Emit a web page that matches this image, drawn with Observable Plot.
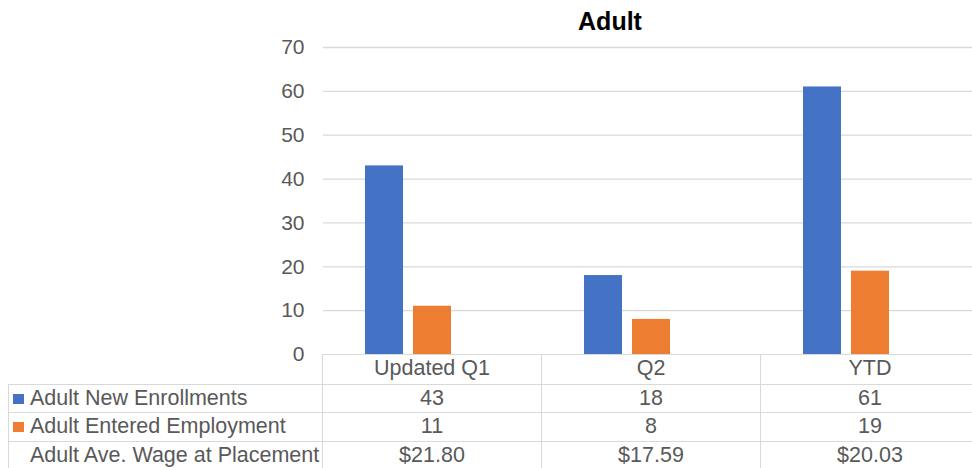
<!DOCTYPE html>
<html>
<head>
<meta charset="utf-8">
<script src="https://cdn.jsdelivr.net/npm/d3@7"></script>
<script src="https://cdn.jsdelivr.net/npm/@observablehq/plot@0.6"></script>
<style>
  html, body { margin: 0; padding: 0; background: #fff; }
  #wrap { position: relative; width: 972px; height: 468px; overflow: hidden; font-family: "Liberation Sans", Arial, sans-serif; }
  #title { position: absolute; top: 7px; left: 0; font-weight: bold; font-size: 25px; color: #000; white-space: nowrap; }
  table.dt { position: absolute; border-collapse: collapse; table-layout: fixed; color: #595959; font-size: 21.5px; }
  table.dt td { padding: 0; border: 1px solid #d9d9d9; text-align: center; white-space: nowrap; overflow: hidden; line-height: 1; }
  table.dt td.lab { text-align: left; padding-left: 4px; }
  table.dt tr.hdr td.blank { border-top: none; border-left: none; border-bottom: 1px solid #d9d9d9; }
  .sw { display: inline-block; width: 11px; height: 10px; margin-right: 6px; vertical-align: 1px; }
</style>
</head>
<body>
<div id="wrap"></div>
<script>
const categories = ["Updated Q1", "Q2", "YTD"];
const seriesNames = ["Adult New Enrollments", "Adult Entered Employment", "Adult Ave. Wage at Placement"];
const enrollments = [43, 18, 61];
const employment = [11, 8, 19];
const wageLabels = ["$21.80", "$17.59", "$20.03"];
const seriesColors = ["#4472C4", "#ED7D31"];
const yTicks = [0, 10, 20, 30, 40, 50, 60, 70];
const titleText = "Adult";

const data = categories.flatMap((c, i) => [
  {cat: c, series: seriesNames[0], value: enrollments[i]},
  {cat: c, series: seriesNames[1], value: employment[i]}
]);

const plot = Plot.plot({
  width: 972,
  height: 468,
  marginLeft: 322,
  marginRight: -8,
  marginTop: 47,
  marginBottom: 114,
  style: {fontFamily: "'Liberation Sans', Arial, sans-serif", fontSize: "21px", color: "#595959", background: "transparent", overflow: "visible"},
  fx: {domain: categories, padding: 0, axis: null, label: null},
  x: {domain: seriesNames, paddingInner: 0.2, paddingOuter: 0.856, axis: null, label: null},
  y: {domain: [0, 70], ticks: yTicks, tickSize: 0, tickPadding: 19, label: null},
  color: {domain: seriesNames.slice(0, 2), range: seriesColors},
  marks: [
    Plot.ruleY(yTicks.filter(d => d > 0), {stroke: "#d9d9d9", strokeWidth: 1.3}),
    Plot.barY(data, {fx: "cat", x: "series", y: "value", fill: "series"})
  ]
});

const wrap = document.getElementById("wrap");
wrap.appendChild(plot);

// Title
const fxScale = plot.scale("fx");
const yScale = plot.scale("y");
const title = document.createElement("div");
title.id = "title";
title.textContent = titleText;
wrap.appendChild(title);
title.style.left = (610 - title.getBoundingClientRect().width / 2) + "px";

// Data table under the plot, aligned with the fx scale
const left0 = 8;
const colStart = fxScale.range[0];
const bw = fxScale.bandwidth;
const top0 = yScale.apply(0);
const table = document.createElement("table");
table.className = "dt";
table.style.left = left0 + "px";
table.style.top = (top0 - 0.5) + "px";
table.style.width = (colStart - left0 + categories.length * bw) + "px";
let html = `<colgroup><col style="width:${colStart - left0}px">` + categories.map(() => `<col style="width:${bw}px">`).join("") + `</colgroup>`;
html += `<tr class="hdr" style="height:30px"><td class="blank"></td>` + categories.map(c => `<td>${c}</td>`).join("") + `</tr>`;
const rows = [
  {name: seriesNames[0], color: seriesColors[0], vals: enrollments},
  {name: seriesNames[1], color: seriesColors[1], vals: employment},
  {name: seriesNames[2], color: null, vals: wageLabels}
];
rows.forEach(r => {
  html += `<tr style="height:28.5px"><td class="lab">` +
    (r.color ? `<span class="sw" style="background:${r.color}"></span>` : `<span class="sw"></span>`) +
    `${r.name}</td>` + r.vals.map(v => `<td>${v}</td>`).join("") + `</tr>`;
});
table.innerHTML = html;
wrap.appendChild(table);
</script>
</body>
</html>
